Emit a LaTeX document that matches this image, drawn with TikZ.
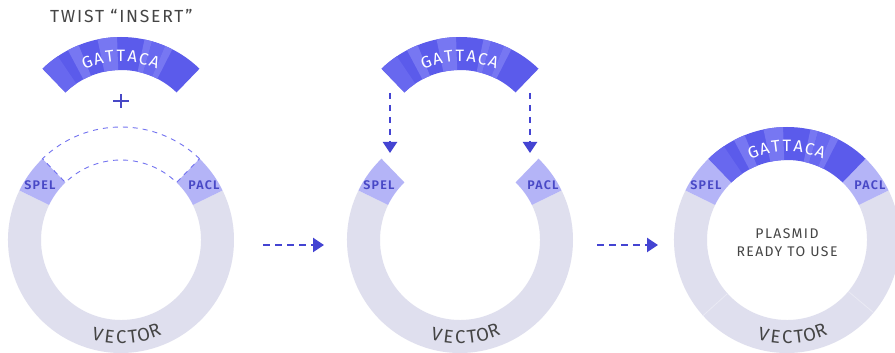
\documentclass[tikz,border=0pt]{standalone}
\usepackage{fontspec}
\setmainfont{Fira Sans}
\newfontfamily\titlefont[LetterSpace=10]{Fira Sans}
\newfontfamily\sitefont[LetterSpace=10]{Fira Sans SemiBold}
\usetikzlibrary{arrows.meta,calc}
\definecolor{ringgray}{HTML}{DFDFEE}
\definecolor{seamgray}{HTML}{EAEAF4}
\definecolor{siteblue}{HTML}{B4B4F7}
\definecolor{insdark}{HTML}{5B5BEB}
\definecolor{inslight}{HTML}{7777F2}
\definecolor{insmid}{HTML}{6868EF}
\definecolor{labelblue}{HTML}{4848C6}
\definecolor{arrowblue}{HTML}{4444D2}
\definecolor{dashblue}{HTML}{7272F0}
\definecolor{textgray}{HTML}{454545}
\newcommand\ringseg[4]{%
  \fill[#4] ($(#1)+(#2:113pt)$) arc[start angle=#2, end angle=#3, radius=113pt]
    -- ($(#1)+(#3:80pt)$) arc[start angle=#3, end angle=#2, radius=80pt] -- cycle;}
\newcommand\insertarc[2]{% center, name prefix
  \ringseg{#1}{46}{134}{insdark}
  \foreach \sa/\ea/\cc in {124/134/insmid,112/118/inslight,92/102/inslight,74/78/inslight,67/74/insmid,63/67/inslight}{
    \ringseg{#1}{\sa}{\ea}{\cc}}
  \foreach \ch [count=\i] in {G,A,T,T,A,C,A}{
    \path ($(#1)+({90+7*(4-\i)}:94pt)$) node[gletter, rotate={7*(4-\i)}] (#2-\i) {\ch};}}
\newcommand\vectorring[2]{% center, name prefix
  \ringseg{#1}{154}{386}{ringgray}
  \ringseg{#1}{134}{154}{siteblue}
  \ringseg{#1}{26}{46}{siteblue}
  \node[sitelabel] (#2-spel) at ($(#1)+(-81,55)$) {SPEL};
  \node[sitelabel] (#2-pacl) at ($(#1)+(83,55)$) {PACL};
  \foreach \ch/\a [count=\i] in {V/256,E/263.2,C/270.2,T/277,O/283.5,R/290.3}{
    \path ($(#1)+(\a:97pt)$) node[vletter, rotate={\a-270}] (#2-v\i) {\ch};}}
\tikzset{
  gletter/.style={text=white, font=\fontsize{16.5}{18}\selectfont, inner sep=0pt},
  vletter/.style={text=textgray, font=\fontsize{18.5}{20}\selectfont, inner sep=0pt},
  sitelabel/.style={text=labelblue, font=\sitefont\fontsize{12.5}{14}\selectfont, inner sep=0pt},
  flowarrow/.style={arrowblue, line width=2.4pt, dash pattern=on 6.5pt off 5.5pt,
    -{Triangle[length=11pt,width=14pt]}},
  gapoutline/.style={dashblue, line width=0.9pt, dash pattern=on 5pt off 5pt}
}
\begin{document}
\begin{tikzpicture}[x=1pt,y=1pt]
\useasboundingbox (0,0) rectangle (895,353);
\fill[white] (0,0) rectangle (895,353);
% centres
\coordinate (c1) at (121,113);
\coordinate (i1) at (121,203);
\coordinate (c2) at (460,113);
\coordinate (i2) at (460,203);
\coordinate (c3) at (787,113);
% title
\node[anchor=west, text=textgray, font=\titlefont\fontsize{17.5}{20}\selectfont, inner sep=0pt] (title) at (50,337) {TWIST “INSERT”};
% ---- panel 1
\vectorring{c1}{p1}
\draw[gapoutline] ($(c1)+(46:113pt)$) arc[start angle=46, end angle=134, radius=113pt]
  -- ($(c1)+(134:80pt)$) arc[start angle=134, end angle=46, radius=80pt] -- cycle;
\insertarc{i1}{g1}
\draw[labelblue, line width=2pt] (113,252) -- (129,252) (121,245) -- (121,259);
% ---- panel 2
\vectorring{c2}{p2}
\insertarc{i2}{g2}
\coordinate (d2l-s) at (390,260);
\coordinate (d2l-e) at (390,200);
\coordinate (d2r-s) at (530,260);
\coordinate (d2r-e) at (530,200);
\draw[flowarrow] (d2l-s) -- (d2l-e);
\draw[flowarrow] (d2r-s) -- (d2r-e);
% ---- panel 3
\vectorring{c3}{p3}
\insertarc{c3}{g3}
\draw[seamgray, line width=0.8pt] ($(c3)+(222:80pt)$) -- ($(c3)+(222:113pt)$);
\draw[seamgray, line width=0.8pt] ($(c3)+(320:80pt)$) -- ($(c3)+(320:113pt)$);
\node[text=textgray, font=\titlefont\fontsize{14}{18}\selectfont, align=center, inner sep=0pt] (ready) at (787,110) {PLASMID\\READY TO USE};
% ---- flow arrows
\coordinate (a1s) at (263,108);
\coordinate (a1e) at (324,108);
\coordinate (a2s) at (597,108);
\coordinate (a2e) at (658,108);
\draw[flowarrow] (a1s) -- (a1e);
\draw[flowarrow] (a2s) -- (a2e);
\end{tikzpicture}
\end{document}
